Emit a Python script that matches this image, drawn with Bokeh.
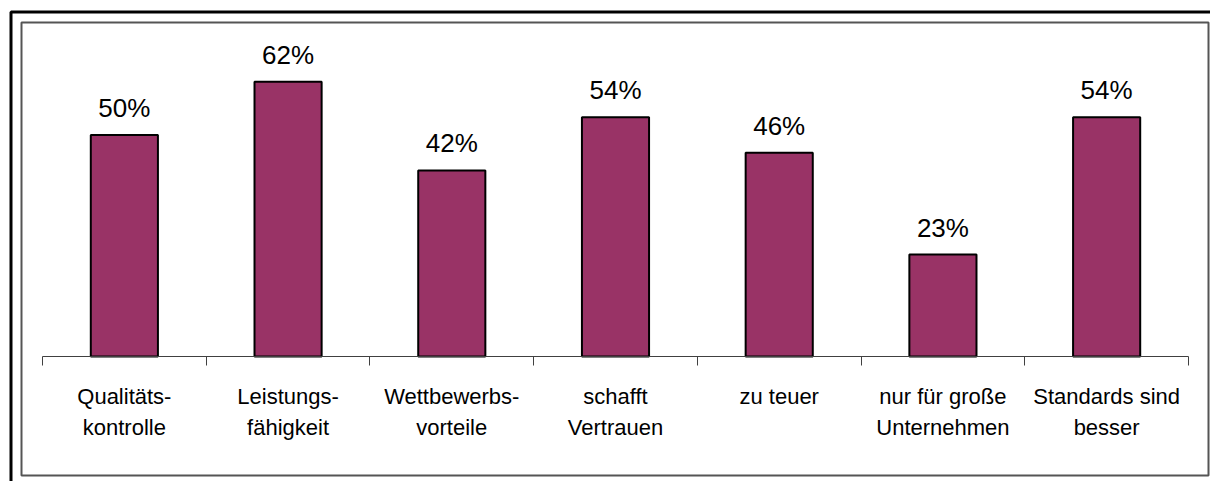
from bokeh.plotting import figure
from bokeh.models import ColumnDataSource, Range1d, FixedTicker, LinearAxis, LabelSet, BoxAnnotation
from bokeh.core.properties import value
from bokeh.embed import file_html
from bokeh.resources import INLINE

categories = ["Qualitäts-\nkontrolle", "Leistungs-\nfähigkeit", "Wettbewerbs-\nvorteile",
              "schafft\nVertrauen", "zu teuer", "nur für große\nUnternehmen", "Standards sind\nbesser"]
values = [50, 62, 42, 54, 46, 23, 54]
value_labels = ["50%", "62%", "42%", "54%", "46%", "23%", "54%"]

n = len(categories)
centers = [i + 0.5 for i in range(n)]
src = ColumnDataSource(dict(x=centers, value=values, label=value_labels))

W, H = 1210, 481
# pixel geometry of the category axis inside the canvas
ax_left, ax_right, ax_y = 42, 1188, 356
px_per_cat = (ax_right - ax_left) / n
px_per_pct = 4.43
xr = Range1d(-ax_left / px_per_cat, n + (W - ax_right) / px_per_cat)
yr = Range1d(-(H - ax_y) / px_per_pct, ax_y / px_per_pct)

p = figure(width=W, height=H, output_backend="svg", toolbar_location=None,
           x_range=xr, y_range=yr, x_axis_type=None, y_axis_type=None, min_border=0)
p.outline_line_color = None
p.xgrid.visible = False
p.ygrid.visible = False
p.background_fill_color = "white"
p.border_fill_color = "white"

p.vbar(x="x", top="value", width=0.41, bottom=0, source=src,
       fill_color="#993366", line_color="black", line_width=2)

labels = LabelSet(x="x", y="value", text="label", source=src, y_offset=18,
                  text_align="center", text_baseline="alphabetic",
                  text_font=value("Liberation Sans"), text_font_size="26px", text_color="black")
p.add_layout(labels)

ax = LinearAxis(ticker=FixedTicker(ticks=centers, minor_ticks=list(range(n + 1))),
                fixed_location=0, bounds=(0, n))
ax.major_label_overrides = {c: lab for c, lab in zip(centers, categories)}
ax.major_tick_out = 0
ax.major_tick_in = 0
ax.minor_tick_out = 9
ax.minor_tick_in = 0
ax.minor_tick_line_color = "#404040"
ax.axis_line_color = "#404040"
ax.axis_line_width = 1
ax.major_label_standoff = 18
ax.major_label_text_font = "Liberation Sans"
ax.major_label_text_font_size = "22px"
ax.major_label_text_line_height = 1.27
ax.major_label_text_color = "black"
p.add_layout(ax, "below")

outer = BoxAnnotation(left=10.5, right=1400, top=11.5, bottom=700,
                      left_units="canvas", right_units="canvas", top_units="canvas", bottom_units="canvas",
                      fill_alpha=0, line_color="black", line_alpha=1, line_width=3)
inner = BoxAnnotation(left=21, right=1208, top=22, bottom=475,
                      left_units="canvas", right_units="canvas", top_units="canvas", bottom_units="canvas",
                      fill_alpha=0, line_color="#555555", line_alpha=1, line_width=2)
p.add_layout(outer)
p.add_layout(inner)

open("out.html", "w").write(file_html(p, INLINE))
